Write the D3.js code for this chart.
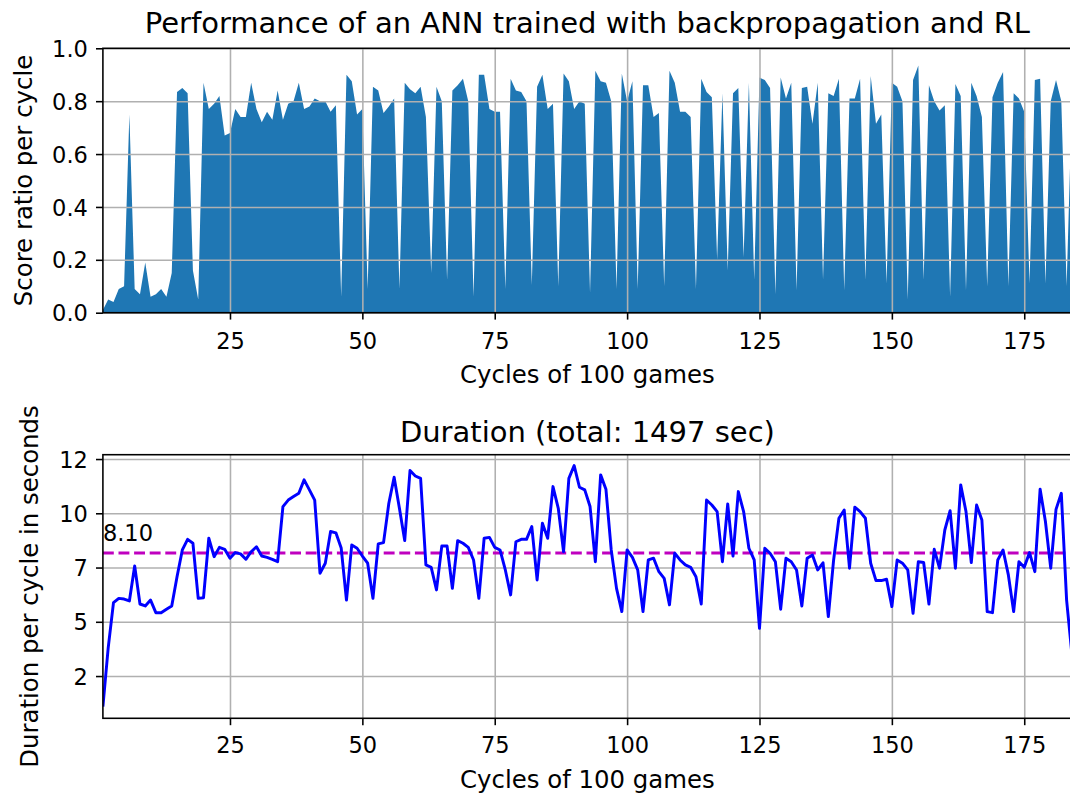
<!DOCTYPE html>
<html><head><meta charset="utf-8">
<script src="https://cdn.jsdelivr.net/npm/d3@7"></script>
<style>
body{margin:0;background:#fff}
svg{display:block}
text{font-family:"DejaVu Sans",sans-serif;fill:#000}
</style>
</head><body>
<svg id="chart" width="1070" height="795"></svg>
<script>
// ---------- DATA ----------
const cycles = d3.range(1, 185);
const scoreRatio = [
0.01,0.05,0.04,0.09,0.10,0.75,0.09,0.07,0.19,0.06,
0.07,0.09,0.06,0.15,0.835,0.85,0.83,0.16,0.05,0.87,
0.77,0.79,0.82,0.67,0.68,0.77,0.74,0.74,0.87,0.77,
0.72,0.76,0.73,0.84,0.73,0.79,0.80,0.87,0.77,0.78,
0.81,0.80,0.80,0.76,0.785,0.06,0.90,0.875,0.75,0.77,
0.09,0.855,0.84,0.755,0.78,0.81,0.09,0.87,0.845,0.83,
0.855,0.74,0.15,0.855,0.80,0.125,0.84,0.86,0.885,0.80,
0.06,0.90,0.90,0.77,0.76,0.76,0.09,0.885,0.84,0.835,
0.80,0.105,0.855,0.90,0.77,0.79,0.10,0.905,0.875,0.77,
0.80,0.79,0.075,0.915,0.875,0.87,0.80,0.09,0.905,0.80,
0.875,0.09,0.86,0.86,0.74,0.755,0.10,0.915,0.87,0.76,
0.76,0.74,0.09,0.885,0.835,0.815,0.20,0.83,0.16,0.83,
0.85,0.21,0.87,0.125,0.89,0.88,0.85,0.07,0.89,0.81,
0.87,0.085,0.85,0.855,0.715,0.87,0.125,0.83,0.82,0.885,
0.085,0.81,0.81,0.885,0.125,0.895,0.715,0.75,0.11,0.87,
0.855,0.80,0.05,0.88,0.935,0.125,0.86,0.80,0.765,0.785,
0.06,0.865,0.82,0.085,0.87,0.82,0.74,0.10,0.815,0.87,
0.91,0.10,0.83,0.81,0.76,0.11,0.88,0.885,0.11,0.80,
0.88,0.80,0.10,0.80
];
const durations = [
1.09,3.8,5.88,6.08,6.05,5.96,7.57,5.82,5.73,6.0,
5.42,5.42,5.58,5.73,7.08,8.31,8.80,8.62,6.08,6.11,
8.85,8.0,8.43,8.34,7.93,8.19,8.13,7.88,8.23,8.46,
8.03,7.97,7.88,7.77,10.31,10.61,10.77,10.92,11.54,11.08,
10.61,7.24,7.70,9.16,9.10,8.4,6.0,8.54,8.39,8.03,
7.70,6.08,8.59,8.65,10.46,11.66,10.23,8.74,11.97,11.72,
11.61,7.62,7.51,6.47,8.49,8.49,6.54,8.74,8.62,8.43,
7.85,6.08,8.85,8.89,8.43,8.31,7.39,6.24,8.69,8.80,
8.80,9.39,6.93,9.54,8.85,11.23,10.23,8.23,11.61,12.20,
11.2,11.08,10.31,7.77,11.77,11.11,8.31,6.54,5.47,8.31,
7.97,7.39,5.47,7.85,7.93,7.31,7.0,5.78,8.16,7.85,
7.62,7.51,7.08,5.82,10.61,10.38,10.08,7.77,10.43,8.03,
11.0,10.08,8.39,7.85,4.70,8.39,8.16,7.77,5.58,7.93,
7.77,7.39,5.73,7.93,8.08,7.39,7.72,5.24,7.85,9.77,
10.15,7.47,10.28,10.08,9.77,7.70,6.90,6.90,6.96,5.70,
7.85,7.70,7.39,5.39,7.77,7.73,5.82,8.34,7.47,9.23,
10.12,7.47,11.31,10.08,7.73,10.38,9.69,5.47,5.42,7.85,
8.31,7.16,5.47,7.77,7.51,8.19,7.31,11.11,9.62,7.47,
10.18,10.92,6.0,3.5
];
const xTickValues = [25,50,75,100,125,150,175];
const scoreTickValues = [0,0.2,0.4,0.6,0.8,1.0];
const durationTickValues = [2.5,5,7.5,10,12.5];
const durationTickLabels = ["2","5","7","10","12"];
const meanDuration = 8.17;
const meanLabel = "8.10";
const topTitle = "Performance of an ANN trained with backpropagation and RL";
const bottomTitle = "Duration (total: 1497 sec)";
const xLabel = "Cycles of 100 games";
const topYLabel = "Score ratio per cycle";
const bottomYLabel = "Duration per cycle in seconds";

// ---------- LAYOUT ----------
const L = 102.9, R = 1071.9;
const top1 = 48.3, bot1 = 312.7;
const top2 = 454.7, bot2 = 718.3;
const tickFont = 22.5, labelFont = 24.4, titleFont = 29;
const spineW = 1.57, gridW = 1.57, tickLen = 6.9, lineW = 2.94;

const svg = d3.select("#chart");
const x = d3.scaleLinear().domain([1, 184]).range([L, R]);
const y1 = d3.scaleLinear().domain([0, 1]).range([bot1, top1]);
const y2 = d3.scaleLinear().domain([0.553, 12.70]).range([bot2, top2]);

const defs = svg.append("defs");
defs.append("clipPath").attr("id","clip1").append("rect")
  .attr("x",L).attr("y",top1).attr("width",R-L).attr("height",bot1-top1);
defs.append("clipPath").attr("id","clip2").append("rect")
  .attr("x",L).attr("y",top2).attr("width",R-L).attr("height",bot2-top2);

function drawGrid(g, ys, yTicks, bottom, topY) {
  const gx = g.append("g").attr("transform",`translate(0,${bottom})`)
    .call(d3.axisBottom(x).tickValues(xTickValues).tickSize(-(bottom-topY)).tickFormat(""));
  gx.select(".domain").remove();
  gx.selectAll("line").attr("stroke","#b0b0b0").attr("stroke-width",gridW);
  const gy = g.append("g").attr("transform",`translate(${L},0)`)
    .call(d3.axisLeft(ys).tickValues(yTicks).tickSize(-(R-L)).tickFormat(""));
  gy.select(".domain").remove();
  gy.selectAll("line").attr("stroke","#b0b0b0").attr("stroke-width",gridW);
}

function drawAxes(g, ys, yTicks, yFmt, bottom, topY, labelBase) {
  const ax = g.append("g").attr("transform",`translate(0,${bottom})`)
    .call(d3.axisBottom(x).tickValues(xTickValues).tickSize(tickLen).tickPadding(0).tickFormat(d3.format("d")));
  ax.select(".domain").remove();
  ax.selectAll("line").attr("stroke","#000").attr("stroke-width",spineW);
  ax.selectAll("text").attr("font-size",tickFont).attr("font-family","DejaVu Sans")
    .attr("fill","#000").attr("dy",null).attr("y",labelBase-bottom)
    .style("dominant-baseline","alphabetic");
  const ay = g.append("g").attr("transform",`translate(${L},0)`)
    .call(d3.axisLeft(ys).tickValues(yTicks).tickSize(tickLen).tickPadding(0).tickFormat(yFmt));
  ay.select(".domain").remove();
  ay.selectAll("line").attr("stroke","#000").attr("stroke-width",spineW);
  ay.selectAll("text").attr("font-size",tickFont).attr("font-family","DejaVu Sans")
    .attr("fill","#000").attr("x",-15).attr("dy",null).attr("y",tickFont*0.36)
    .style("dominant-baseline","alphabetic");
  g.append("rect").attr("x",L).attr("y",topY).attr("width",R-L).attr("height",bottom-topY)
    .attr("fill","none").attr("stroke","#000").attr("stroke-width",spineW);
}

// ---------- TOP PANEL ----------
const g1 = svg.append("g");
const area = d3.area().x((d,i)=>x(cycles[i])).y0(y1(0)).y1(d=>y1(d));
g1.append("path").datum(scoreRatio).attr("d",area)
  .attr("fill","#1f77b4").attr("clip-path","url(#clip1)");
drawGrid(g1, y1, scoreTickValues, bot1, top1);
drawAxes(g1, y1, scoreTickValues, d3.format(".1f"), bot1, top1, 349.5);
svg.append("text").attr("x",(L+R)/2).attr("y",33.3).attr("text-anchor","middle")
  .attr("font-size",titleFont).text(topTitle);
svg.append("text").attr("x",(L+R)/2).attr("y",382.7).attr("text-anchor","middle")
  .attr("font-size",labelFont).text(xLabel);
svg.append("text").attr("transform",`translate(32,${(top1+bot1)/2}) rotate(-90)`)
  .attr("text-anchor","middle").attr("font-size",labelFont).text(topYLabel);

// ---------- BOTTOM PANEL ----------
const g2 = svg.append("g");
drawGrid(g2, y2, durationTickValues, bot2, top2);
const line = d3.line().x((d,i)=>x(cycles[i])).y(d=>y2(d));
g2.append("line").attr("x1",L).attr("x2",R).attr("y1",y2(meanDuration)).attr("y2",y2(meanDuration))
  .attr("stroke","#bf00bf").attr("stroke-width",lineW).attr("stroke-dasharray","10.9,4.7")
  .attr("clip-path","url(#clip2)");
g2.append("path").datum(durations).attr("d",line)
  .attr("fill","none").attr("stroke","#0000ff").attr("stroke-width",lineW)
  .attr("stroke-linejoin","round").attr("clip-path","url(#clip2)");
g2.append("text").attr("x",x(1)).attr("y",y2(meanDuration+0.55))
  .attr("font-size",tickFont).text(meanLabel);
drawAxes(g2, y2, durationTickValues, (d,i)=>durationTickLabels[i], bot2, top2, 753.5);
svg.append("text").attr("x",(L+R)/2).attr("y",441.7).attr("text-anchor","middle")
  .attr("font-size",titleFont).text(bottomTitle);
svg.append("text").attr("x",(L+R)/2).attr("y",788.3).attr("text-anchor","middle")
  .attr("font-size",labelFont).text(xLabel);
svg.append("text").attr("transform",`translate(38,${(top2+bot2)/2}) rotate(-90)`)
  .attr("text-anchor","middle").attr("font-size",labelFont).text(bottomYLabel);
</script>
</body></html>
